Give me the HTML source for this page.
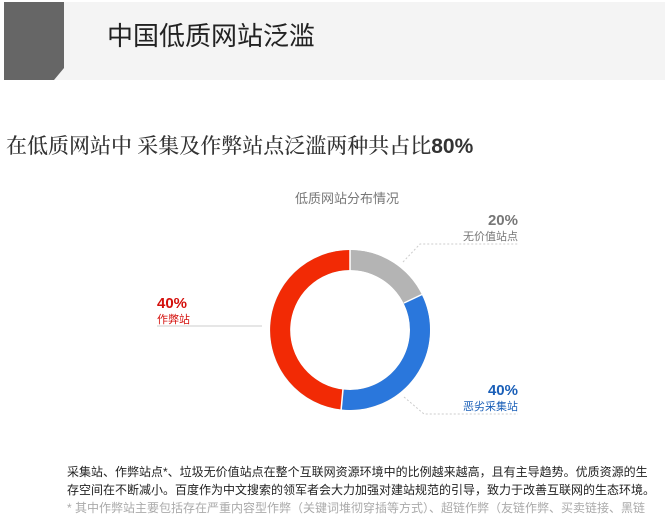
<!DOCTYPE html>
<html><head><meta charset="utf-8"><style>
body{margin:0;width:665px;height:514px;overflow:hidden;background:#fff;font-family:"Liberation Sans","Noto Sans CJK SC",sans-serif;position:relative}
.a{position:absolute;white-space:nowrap}
</style></head><body>
<div class="a" style="left:4px;top:2px;width:661px;height:78px;background:#f4f4f4"></div>
<svg class="a" style="left:0;top:0" width="665" height="514">
<polygon points="4,2 64,2 64,68 54,80 4,80" fill="#666"/>
<g fill="none" stroke-width="20">
<circle cx="350" cy="330" r="70" stroke="#b4b4b4"/>
<path d="M350,260 A70,70 0 0 1 412.9,299.3" stroke="#b4b4b4"/>
<path d="M412.9,299.3 A70,70 0 0 1 342.7,399.6" stroke="#2a77dc"/>
<path d="M342.7,399.6 A70,70 0 0 1 350,260" stroke="#f22a05"/>
</g>
<g stroke="#fff" stroke-width="1.5"><line x1="350" y1="249" x2="350" y2="271"/><line x1="404" y1="303" x2="423" y2="294"/><line x1="343" y1="389" x2="341" y2="411"/></g>
<g stroke="#ccc" stroke-width="1" stroke-dasharray="2,2" fill="none"><polyline points="403,262 420,244 518,244"/><polyline points="404,397 424,414 518,414"/></g>
<line x1="157" y1="326" x2="262" y2="326" stroke="#ccc"/>
</svg>
<div class="a" style="left:107px;top:16px;font-size:26px;color:#222">中国低质网站泛滥</div>
<div class="a" style="left:6px;top:130px;font-size:21px;color:#333;font-family:'Liberation Serif','Noto Serif CJK SC',serif;font-weight:500">在低质网站中 采集及作弊站点泛滥两种共占比<b style="font-family:'Liberation Sans',sans-serif">80%</b></div>
<div class="a" style="left:295px;top:188px;font-size:13px;color:#777">低质网站分布情况</div>
<div class="a" style="left:458px;top:213px;width:60px;text-align:right;font-size:15px;font-weight:bold;color:#777;line-height:16px">20%</div>
<div class="a" style="left:440px;top:228px;width:78px;text-align:right;font-size:11px;color:#777">无价值站点</div>
<div class="a" style="left:157px;top:296px;font-size:15px;font-weight:bold;color:#d4100c;line-height:16px">40%</div>
<div class="a" style="left:157px;top:311px;font-size:11px;color:#d4100c">作弊站</div>
<div class="a" style="left:458px;top:383px;width:60px;text-align:right;font-size:15px;font-weight:bold;color:#1a5fb8;line-height:16px">40%</div>
<div class="a" style="left:440px;top:398px;width:78px;text-align:right;font-size:11px;color:#1a5fb8">恶劣采集站</div>
<div class="a" style="left:67px;top:463px;font-size:12px;color:#222;line-height:18px">采集站、作弊站点*、垃圾无价值站点在整个互联网资源环境中的比例越来越高，且有主导趋势。优质资源的生<br>存空间在不断减小。百度作为中文搜索的领军者会大力加强对建站规范的引导，致力于改善互联网的生态环境。<br><span style="color:#aaa">* 其中作弊站主要包括存在严重内容型作弊（关键词堆彻穿插等方式）、超链作弊（友链作弊、买卖链接、黑链</span></div>
</body></html>
